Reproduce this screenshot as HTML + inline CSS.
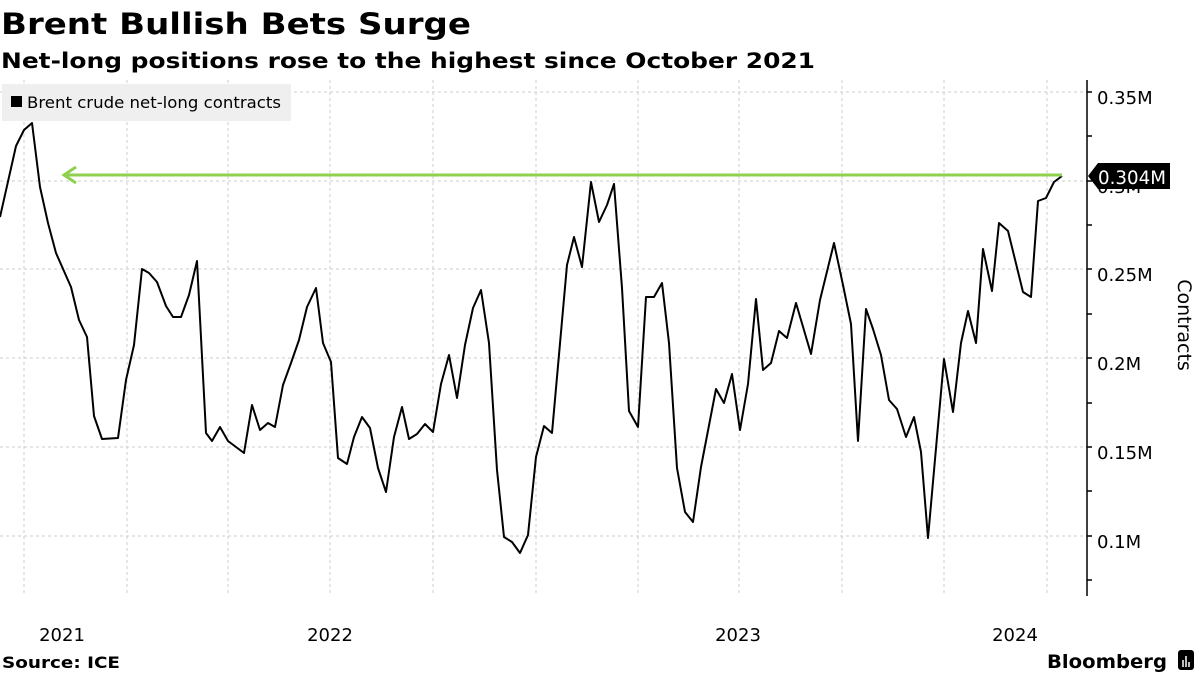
<!DOCTYPE html>
<html><head><meta charset="utf-8"><style>
html,body{margin:0;padding:0;background:#fff;}
svg{display:block;}
text{font-family:"DejaVu Sans","Liberation Sans",sans-serif;}
</style></head><body>
<svg width="1200" height="675" viewBox="0 0 1200 675" xmlns="http://www.w3.org/2000/svg">
<rect width="1200" height="675" fill="#fff"/>
<text x="1" y="34" font-size="29" font-weight="bold" textLength="470" lengthAdjust="spacingAndGlyphs">Brent Bullish Bets Surge</text>
<text x="1" y="68" font-size="21" font-weight="bold" textLength="814" lengthAdjust="spacingAndGlyphs">Net-long positions rose to the highest since October 2021</text>
<g stroke="#ccc" stroke-width="1" stroke-dasharray="3,3">
<line x1="0" y1="92" x2="1087" y2="92"/><line x1="0" y1="181" x2="1087" y2="181"/>
<line x1="0" y1="269" x2="1087" y2="269"/><line x1="0" y1="358" x2="1087" y2="358"/>
<line x1="0" y1="447" x2="1087" y2="447"/><line x1="0" y1="536" x2="1087" y2="536"/>
<line x1="24" y1="80" x2="24" y2="595"/><line x1="127" y1="80" x2="127" y2="595"/>
<line x1="228" y1="80" x2="228" y2="595"/><line x1="330" y1="80" x2="330" y2="595"/>
<line x1="433" y1="80" x2="433" y2="595"/><line x1="536" y1="80" x2="536" y2="595"/>
<line x1="638" y1="80" x2="638" y2="595"/><line x1="739" y1="80" x2="739" y2="595"/>
<line x1="842" y1="80" x2="842" y2="595"/><line x1="944" y1="80" x2="944" y2="595"/>
<line x1="1047" y1="80" x2="1047" y2="595"/>
</g>
<rect x="2" y="84" width="289" height="37" fill="#efefef"/>
<rect x="11" y="96" width="11" height="11" fill="#000"/>
<text x="27" y="108" font-size="16" textLength="254" lengthAdjust="spacingAndGlyphs">Brent crude net-long contracts</text>
<line x1="1087" y1="80" x2="1087" y2="596" stroke="#000" stroke-width="1.5"/>
<g stroke="#000" stroke-width="1.5">
<line x1="1087" y1="92" x2="1092" y2="92"/><line x1="1087" y1="136" x2="1092" y2="136"/>
<line x1="1087" y1="181" x2="1092" y2="181"/><line x1="1087" y1="225" x2="1092" y2="225"/>
<line x1="1087" y1="269" x2="1092" y2="269"/><line x1="1087" y1="314" x2="1092" y2="314"/>
<line x1="1087" y1="358" x2="1092" y2="358"/><line x1="1087" y1="403" x2="1092" y2="403"/>
<line x1="1087" y1="447" x2="1092" y2="447"/><line x1="1087" y1="491" x2="1092" y2="491"/>
<line x1="1087" y1="536" x2="1092" y2="536"/><line x1="1087" y1="580" x2="1092" y2="580"/>
</g>
<g font-size="18" fill="#000">
<text x="1097" y="104">0.35M</text>
<text x="1097" y="193">0.3M</text>
<text x="1097" y="281">0.25M</text>
<text x="1097" y="370">0.2M</text>
<text x="1097" y="459">0.15M</text>
<text x="1097" y="548">0.1M</text>
</g>
<text transform="translate(1178,325) rotate(90)" font-size="19" text-anchor="middle">Contracts</text>
<polyline fill="none" stroke="#000" stroke-width="2" stroke-linejoin="round" points="0,217 16,146 24,130 32,123 40,187 48,223 56,253 71,287 79,320 87,337 94,416 102,439 118,438 126,380 134,345 142,269 149,273 157,282 166,306 173,317 181,317 189,295 197,261 206,433 212,441 220,427 228,441 244,453 252,405 260,430 268,423 275,427 283,385 291,363 299,340 307,307 316,288 323,343 331,362 338,458 347,464 354,437 362,417 370,428 378,468 386,492 394,437 402,407 409,439 417,434 425,424 433,432 441,384 449,355 457,398 465,345 473,308 481,290 489,343 497,470 504,537 512,542 520,553 528,535 536,457 544,426 552,433 567,265 574,237 582,267 591,182 599,222 607,205 614,184 622,288 629,411 638,427 646,297 654,297 662,283 669,343 677,468 685,512 693,522 701,467 716,389 724,403 732,374 740,430 748,384 756,299 763,370 771,363 779,331 787,338 796,303 811,354 820,300 834,243 843,285 851,324 858,441 866,309 873,329 881,355 889,400 897,409 906,437 914,417 921,452 928,538 937,437 944,359 953,412 961,343 968,311 976,343 983,249 992,291 999,223 1008,231 1023,292 1031,297 1038,201 1046,198 1054,182 1062,176"/>
<line x1="64" y1="175" x2="1062" y2="175" stroke="#8fd14f" stroke-width="3"/>
<polyline points="76,167 64,175 76,183" fill="none" stroke="#8fd14f" stroke-width="3"/>
<polygon points="1088,176 1098,163 1170,163 1170,189 1098,189" fill="#000"/>
<text x="1098" y="184" font-size="19" fill="#fff" textLength="68" lengthAdjust="spacingAndGlyphs">0.304M</text>
<g font-size="18" fill="#000" text-anchor="middle">
<text x="62" y="641">2021</text>
<text x="330" y="641">2022</text>
<text x="738" y="641">2023</text>
<text x="1015" y="641">2024</text>
</g>
<text x="2" y="668" font-size="16" font-weight="bold" textLength="118" lengthAdjust="spacingAndGlyphs">Source: ICE</text>
<text x="1047" y="668" font-size="19" font-weight="bold" textLength="120" lengthAdjust="spacingAndGlyphs">Bloomberg</text>
<rect x="1178" y="650" width="16" height="20" rx="3" fill="#000"/>
<g stroke="#fff" stroke-width="1.5"><line x1="1183" y1="660" x2="1183" y2="667"/><line x1="1186" y1="656" x2="1186" y2="667"/><line x1="1189" y1="662" x2="1189" y2="667"/></g>
</svg>
</body></html>
